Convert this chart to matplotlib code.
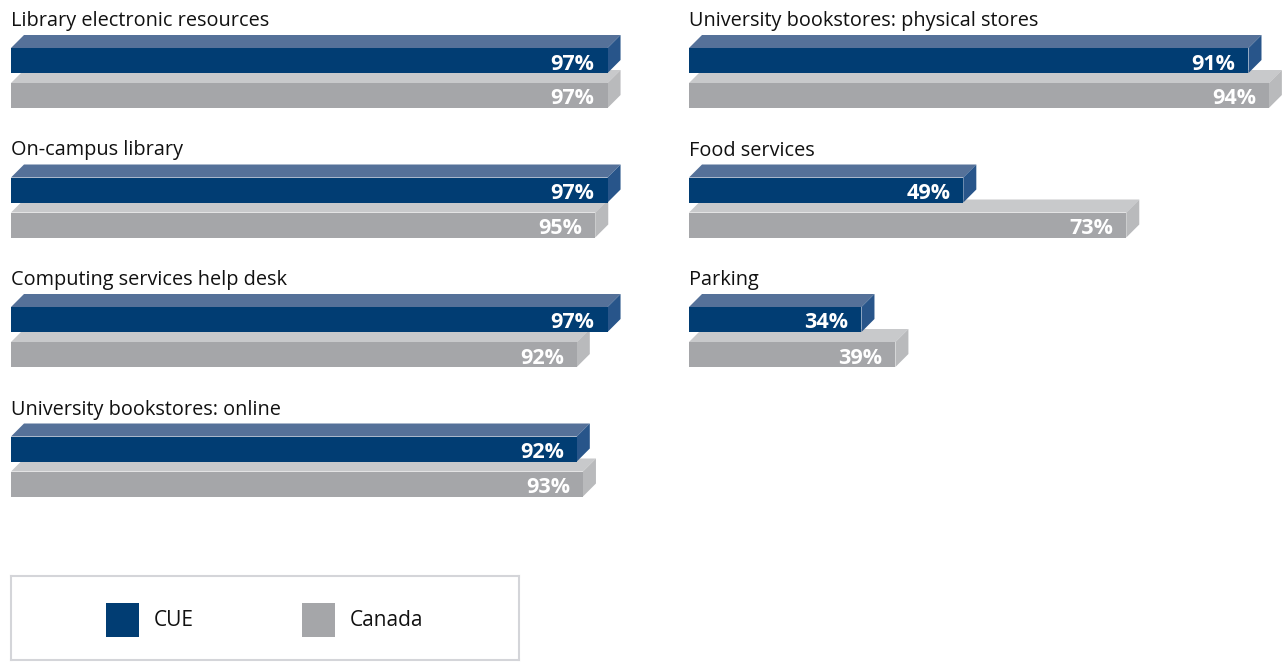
import matplotlib
matplotlib.use("Agg")
import matplotlib.pyplot as plt
from matplotlib.patches import Rectangle, Polygon

plt.rcParams["font.family"] = ["Open Sans", "DejaVu Sans"]

# Satisfaction shares (%) per service
left_labels = [
    "Library electronic resources",
    "On-campus library",
    "Computing services help desk",
    "University bookstores: online",
]
left_cue = [97, 97, 97, 92]
left_canada = [97, 95, 92, 93]

right_labels = [
    "University bookstores: physical stores",
    "Food services",
    "Parking",
]
right_cue = [91, 49, 34]
right_canada = [94, 73, 39]

series_names = ["CUE", "Canada"]

W, H = 1283, 662
CUE_COLORS = ("#013d73", "#557199", "#28558a")      # front, top, side
CAN_COLORS = ("#a5a6a9", "#c8c9cb", "#b9babc")
DEPTH = 13        # pixels of fake 3D depth
BAR_H = 25        # front face height in pixels
ROW_TOP = 48      # first CUE bar front top (pixels from top)
ROW_STEP = 129.5


def bar3d(ax, base, value, top, colors, ppu):
    front, topc, side = colors
    dx = DEPTH / ppu
    ax.add_patch(Polygon([(base, top), (value, top), (value + dx, top - DEPTH),
                          (base + dx, top - DEPTH)], closed=True,
                         facecolor=topc, edgecolor="none", clip_on=False))
    ax.add_patch(Polygon([(value, top), (value + dx, top - DEPTH),
                          (value + dx, top + BAR_H - DEPTH), (value, top + BAR_H)],
                         closed=True, facecolor=side, edgecolor="none", clip_on=False))
    ax.add_patch(Rectangle((base, top), value - base, BAR_H,
                           facecolor=front, edgecolor="none", clip_on=False))
    ax.text(value - DEPTH / ppu, top + BAR_H / 2 + 3.5, f"{value}%",
            ha="right", va="center", color="white", fontsize=15.5,
            fontweight="bold", clip_on=False)


def panel(x_px, ppu, x0, labels, cue, canada):
    ax = fig.add_axes([x_px / W, 0, 100 * ppu / W, 1])
    ax.set_xlim(x0, x0 + 100)
    ax.set_ylim(H, 0)
    ax.axis("off")
    for i, label in enumerate(labels):
        top = ROW_TOP + i * ROW_STEP
        ax.text(x0, top - 22, label, ha="left", va="baseline",
                fontsize=14.3, color="#111111")
        # Canada bar sits lower and is partly hidden by the CUE bar
        bar3d(ax, x0, canada[i], top + 35, CAN_COLORS, ppu)
        bar3d(ax, x0, cue[i], top, CUE_COLORS, ppu)
    return ax


fig = plt.figure(figsize=(W / 100, H / 100), dpi=100)

panel(11, 6.15, 0, left_labels, left_cue, left_canada)
panel(689, 6.79, 8.6, right_labels, right_cue, right_canada)

# Legend box
leg = fig.add_axes([11 / W, (H - 660) / H, 508 / W, 84 / H])
leg.set_xlim(0, 508)
leg.set_ylim(84, 0)
leg.set_xticks([])
leg.set_yticks([])
for sp in leg.spines.values():
    sp.set_color("#d4d5d9")
    sp.set_linewidth(1.5)
for name, colors, x in zip(series_names, (CUE_COLORS, CAN_COLORS), (95, 291)):
    leg.add_patch(Rectangle((x, 27), 33, 34, facecolor=colors[0], edgecolor="none"))
    leg.text(x + 48, 44, name, ha="left", va="center", fontsize=15, color="#111111")

fig.savefig("out.png", dpi=100)
